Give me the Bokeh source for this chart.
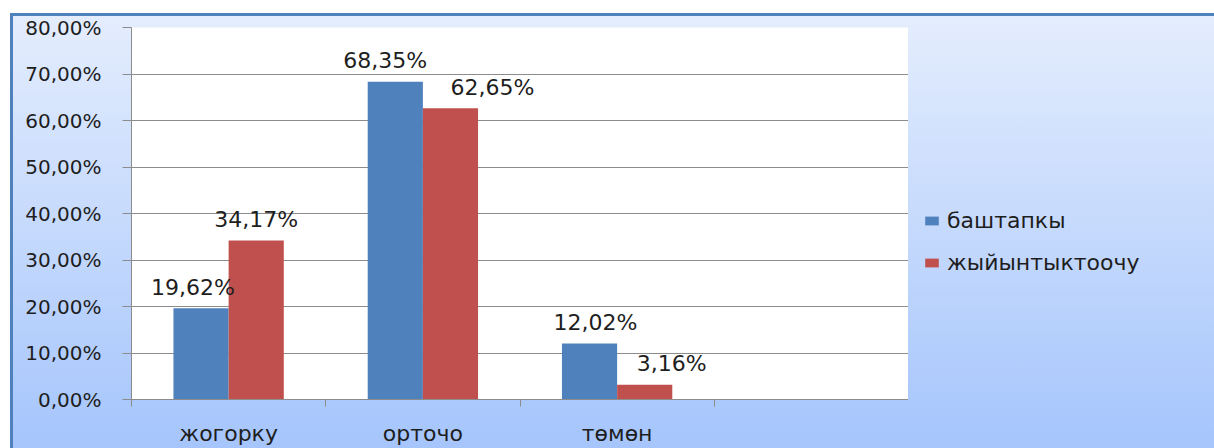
from bokeh.plotting import figure
from bokeh.layouts import row
from bokeh.models import (ColumnDataSource, Range1d, FixedTicker, CustomJSTickFormatter,
                          Legend, LegendItem)
from bokeh.core.properties import value
from bokeh.embed import file_html
from bokeh.resources import INLINE

# ---- data ----
categories = ["жогорку", "орточо", "төмөн", ""]
series_names = ["баштапкы", "жыйынтыктоочу"]
bashtapky = [19.62, 68.35, 12.02]
jyiyntyk = [34.17, 62.65, 3.16]
y_ticks = [0, 10, 20, 30, 40, 50, 60, 70, 80]

# ---- styling ----
BLUE = "#4f81bd"
RED = "#c0504d"
FONT = "DejaVu Sans"
TXT = "#1e1e1e"
GRID = "#8c8c8c"
bar_w = 0.284
blue_off = 0.358
red_off = 0.642
blue_label_dx = [-8, -10, 6]
red_label_dx = [0, 42, 27]

GRAD = "linear-gradient(to bottom, #ffffff 0px, #ffffff 13px, #4f81bd 13px, #4f81bd 16px, #e4edfd 16px, #a5c5fc 100%)"

def fmt(v):
    return f"{v:.2f}".replace(".", ",") + "%"

n = len(bashtapky)
src_b = ColumnDataSource(dict(x=[i + blue_off for i in range(n)], top=bashtapky,
                              lab=[fmt(v) for v in bashtapky], dx=blue_label_dx))
src_r = ColumnDataSource(dict(x=[i + red_off for i in range(n)], top=jyiyntyk,
                              lab=[fmt(v) for v in jyiyntyk], dx=red_label_dx))

p = figure(width=908, height=448, output_backend="svg", toolbar_location=None,
           x_range=Range1d(0, len(categories)), y_range=Range1d(0, 80),
           min_border_left=131, min_border_right=0, min_border_top=27, min_border_bottom=45)

p.styles = {
    "background": (
        "linear-gradient(to bottom, #ffffff 0px, #ffffff 13px, rgba(0,0,0,0) 13px),"
        "linear-gradient(to right, #ffffff 0px, #ffffff 10px, #4f81bd 10px, #4f81bd 13px, rgba(0,0,0,0) 13px),"
        + GRAD
    )
}
p.border_fill_color = None
p.background_fill_color = "white"
p.outline_line_color = None

rb = p.vbar(x="x", top="top", width=bar_w, source=src_b, fill_color=BLUE, line_color=None)
rr = p.vbar(x="x", top="top", width=bar_w, source=src_r, fill_color=RED, line_color=None)

for src in (src_b, src_r):
    p.text(x="x", y="top", text="lab", source=src, x_offset="dx", y_offset=-21,
           text_align="center", text_baseline="middle", text_font=value(FONT),
           text_font_size="22px", text_color=TXT)

# y axis
p.yaxis.ticker = FixedTicker(ticks=y_ticks)
p.yaxis.formatter = CustomJSTickFormatter(code="return tick.toFixed(2).replace('.', ',') + '%';")
p.yaxis.major_label_text_font = FONT
p.yaxis.major_label_text_font_size = "20px"
p.yaxis.major_label_text_color = TXT
p.yaxis.axis_line_color = GRID
p.yaxis.major_tick_line_color = GRID
p.yaxis.major_tick_out = 9
p.yaxis.major_tick_in = 0
p.yaxis.minor_tick_line_color = None
p.yaxis.major_label_standoff = 21

# x axis
centers = [i + 0.5 for i in range(len(categories))]
p.xaxis.ticker = FixedTicker(ticks=centers, minor_ticks=list(range(len(categories) + 1)))
p.xaxis.major_label_overrides = {c: lab for c, lab in zip(centers, categories)}
p.xaxis.major_label_text_font = FONT
p.xaxis.major_label_text_font_size = "22px"
p.xaxis.major_label_text_color = TXT
p.xaxis.axis_line_color = GRID
p.xaxis.major_tick_line_color = None
p.xaxis.major_tick_out = 0
p.xaxis.major_tick_in = 0
p.xaxis.minor_tick_line_color = GRID
p.xaxis.minor_tick_out = 7
p.xaxis.minor_tick_in = 0
p.xaxis.major_label_standoff = 14

p.xgrid.grid_line_color = None
p.ygrid.ticker = FixedTicker(ticks=y_ticks)
p.ygrid.grid_line_color = GRID

# ---- legend panel (second figure) ----
q = figure(width=306, height=448, output_backend="svg", toolbar_location=None,
           x_range=Range1d(0, 1), y_range=Range1d(0, 1),
           min_border_left=0, min_border_right=0, min_border_top=0, min_border_bottom=0)
q.styles = {"background": GRAD}
q.border_fill_color = None
q.background_fill_color = None
q.outline_line_color = None
q.axis.visible = False
q.grid.visible = False
# zero-height proxies, only used for the legend swatches
lb = q.vbar(x=[0.5], top=[0], bottom=[0], width=0.1, fill_color=BLUE, line_color=None)
lr = q.vbar(x=[0.5], top=[0], bottom=[0], width=0.1, fill_color=RED, line_color=None)

legend = Legend(items=[LegendItem(label=series_names[0], renderers=[lb]),
                       LegendItem(label=series_names[1], renderers=[lr])],
                location=(15, 124), orientation="vertical",
                glyph_width=17, glyph_height=11, label_standoff=7,
                label_height=24, spacing=17, padding=15, margin=0,
                label_text_font=FONT, label_text_font_size="22px", label_text_color=TXT,
                border_line_color=None, background_fill_alpha=0)
q.add_layout(legend, "center")

layout = row(p, q, spacing=0)
open("out.html", "w").write(file_html(layout, INLINE))
